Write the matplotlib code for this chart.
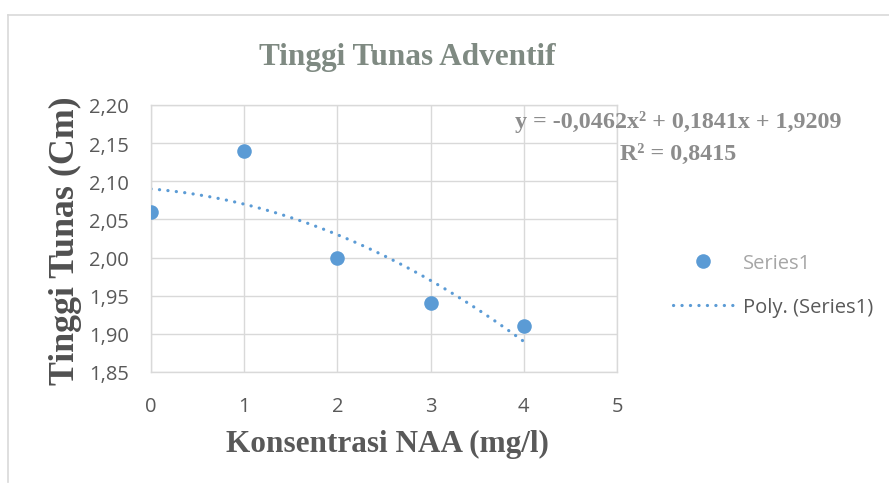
import numpy as np
import matplotlib
matplotlib.use("Agg")
import matplotlib.pyplot as plt
from matplotlib.lines import Line2D

# data
konsentrasi = [0, 1, 2, 3, 4]
tinggi = [2.06, 2.14, 2.00, 1.94, 1.91]
x_ticks = [0, 1, 2, 3, 4, 5]
y_ticks = [1.85, 1.90, 1.95, 2.00, 2.05, 2.10, 2.15, 2.20]
eq_line = "y = -0,0462x\u00b2 + 0,1841x + 1,9209"
r2_line = "R\u00b2 = 0,8415"

blue = "#5B9BD5"
grid_c = "#D9D9D9"
serif = "Liberation Serif"
sans = "Open Sans"

fig = plt.figure(figsize=(8.89, 4.85), dpi=100)
ax = fig.add_axes([151/889, 1 - 373/485, (617 - 151)/889, (373 - 106)/485])

# chart area border
fig.add_artist(Line2D([8/889, 8/889], [2/485, 1 - 16/485], color=grid_c, lw=1.2))
fig.add_artist(Line2D([8/889, 1], [1 - 16/485, 1 - 16/485], color=grid_c, lw=1.2))

ax.scatter(konsentrasi, tinggi, s=110, color=blue, zorder=3, linewidths=0)

# polynomial trendline (order 2)
coef = np.polyfit(konsentrasi, tinggi, 2)
xs = np.linspace(min(konsentrasi), max(konsentrasi), 200)
ax.plot(xs, np.polyval(coef, xs), color=blue, lw=2.3,
        linestyle=(0, (0.05, 2.6)), dash_capstyle="round", zorder=2)

ax.set_xlim(0, 5)
ax.set_ylim(1.85, 2.20)
ax.set_xticks(x_ticks)
ax.set_yticks(y_ticks)
ax.set_xticklabels([str(v) for v in x_ticks])
ax.set_yticklabels([("%.2f" % v).replace(".", ",") for v in y_ticks])
ax.tick_params(length=0, labelsize=14.5, labelcolor="#595959")
ax.tick_params(axis="y", pad=16)
ax.tick_params(axis="x", pad=17)
for lab in ax.get_xticklabels() + ax.get_yticklabels():
    lab.set_family(sans)
ax.grid(True, color=grid_c, lw=1.0)
ax.set_axisbelow(True)
for sp in ax.spines.values():
    sp.set_color(grid_c)
    sp.set_linewidth(1.0)

fig.text(407/889, 1 - 65/485, "Tinggi Tunas Adventif", ha="center", va="baseline",
         fontsize=22.5, fontweight="bold", family=serif, color="#7F8A82")
fig.text(387/889, 1 - 452/485, "Konsentrasi NAA (mg/l)", ha="center", va="baseline",
         fontsize=22.5, fontweight="bold", family=serif, color="#595959")
fig.text(65/889, 1 - 241/485, "Tinggi Tunas (Cm)", ha="center", va="center",
         rotation=90, fontsize=25.8, fontweight="bold", family=serif, color="#505050")
fig.text(678/889, 1 - 128/485, eq_line, ha="center", va="baseline",
         fontsize=17.3, fontweight="bold", family=serif, color="#8C8C8C")
fig.text(678/889, 1 - 160/485, r2_line, ha="center", va="baseline",
         fontsize=17.3, fontweight="bold", family=serif, color="#8C8C8C")

handles = [
    Line2D([], [], marker="o", ls="none", markersize=10.5, color=blue, markeredgewidth=0),
    Line2D([], [], color=blue, lw=2.3, linestyle=(0, (0.05, 2.6)), dash_capstyle="round"),
]
leg = fig.legend(handles, ["Series1", "Poly. (Series1)"], loc="center left",
                 bbox_to_anchor=(655/889, 1 - 286/485), frameon=False,
                 prop={"family": sans, "size": 14.5}, handlelength=3.0,
                 handletextpad=0.45, labelspacing=1.15)
leg.get_texts()[0].set_color("#A6A6A6")
leg.get_texts()[1].set_color("#595959")

fig.savefig("out.png", dpi=100)
